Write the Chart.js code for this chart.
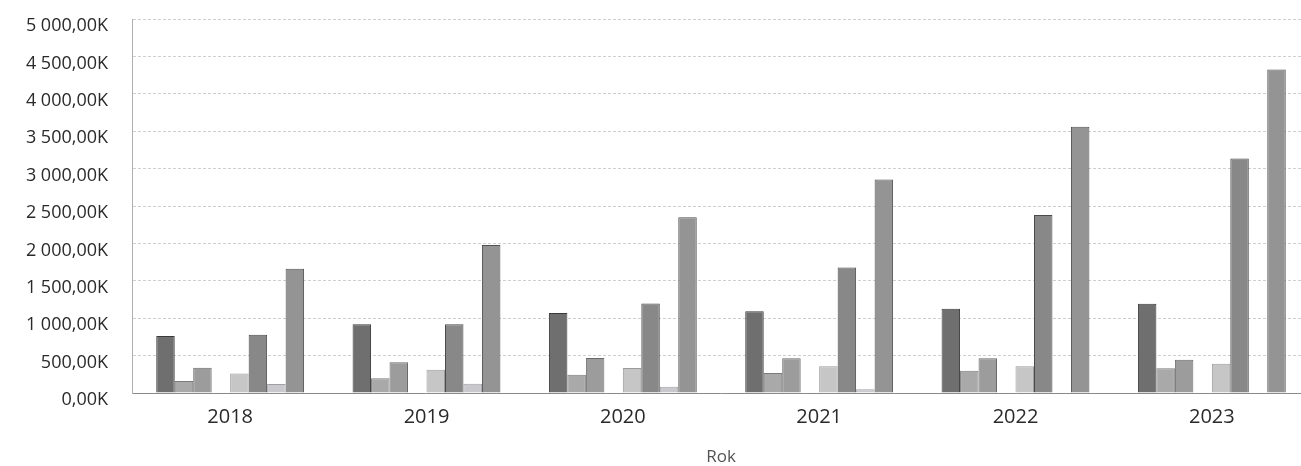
<!DOCTYPE html>
<html>
<head>
<meta charset="utf-8">
<script src="https://cdn.jsdelivr.net/npm/chart.js@4/dist/chart.umd.min.js"></script>
<style>
  html, body { margin: 0; padding: 0; background: #fff; overflow: hidden; }
  #wrap { width: 1312px; height: 466px; }
</style>
</head>
<body>
<div id="wrap"><canvas id="graph"></canvas></div>
<script>
// values, in thousands (K)
var years = ['2018', '2019', '2020', '2021', '2022', '2023']
var s1 = [761, 920, 1070, 1093, 1127, 1193]
var s2 = [159, 197, 245, 268, 296, 332]
var s3 = [336, 412, 468, 463, 463, 445]
var s4 = [0, 0, 0, 0, 0, 0]
var s5 = [262, 312, 333, 356, 356, 391]
var s6 = [779, 920, 1196, 1677, 2380, 3135]
var s7 = [121, 124, 83, 50, 0, 0]
var s8 = [1662, 1978, 2350, 2855, 3560, 4326]
var yTicks = [0, 500, 1000, 1500, 2000, 2500, 3000, 3500, 4000, 4500, 5000]

var fills = ['#6f6f6f', '#a9a9a9', '#9c9c9c', '#8a8a8a', '#c6c6c6', '#888888', '#c9c9cd', '#949494']
var edges = ['#3a3a3a', '#7a7a7a', '#6a6a6a', '#555555', '#9a9a9a', '#4a4a4a', '#a0a0a4', '#505050']

var fmt = function (v) {
    var p = v.toFixed(2).split('.')
    p[0] = p[0].replace(/\B(?=(\d{3})+(?!\d))/g, ' ')
    return p[0] + ',' + p[1] + 'K'
}

var series = [s1, s2, s3, s4, s5, s6, s7, s8]
var datasets = series.map(function (d, i) {
    return {
        label: 'S' + (i + 1),
        data: d,
        backgroundColor: fills[i],
        borderColor: edges[i],
        borderWidth: 1,
        barPercentage: 1,
        categoryPercentage: 0.753
    }
})

var ctx = document.getElementById('graph').getContext('2d')
var chart = new Chart(ctx, {
    type: 'bar',
    data: { labels: years, datasets: datasets },
    options: {
        responsive: true,
        maintainAspectRatio: false,
        animation: false,
        layout: { padding: { top: 19, right: 2, left: 0, bottom: 0 } },
        plugins: { legend: { display: false }, tooltip: { enabled: false } },
        scales: {
            x: {
                grid: { display: false, drawTicks: false },
                border: { display: true, color: '#8a8a8a', dash: [2, 2] },
                ticks: { color: '#2a2a2a', font: { family: 'Open Sans', size: 20 }, padding: 12 },
                title: {
                    display: true, text: 'Rok', color: '#555',
                    font: { family: 'Open Sans', size: 17, lineHeight: 1 },
                    padding: { top: 0, bottom: 0 }
                },
                afterFit: function (scale) { scale.height = 73 }
            },
            y: {
                min: 0,
                max: 5000,
                afterBuildTicks: function (scale) {
                    scale.ticks = yTicks.map(function (v) { return { value: v } })
                },
                grid: { color: '#cfcfcf', drawTicks: false, lineWidth: 1 },
                border: { display: true, color: '#b0b0b0', dash: [3, 2] },
                ticks: {
                    color: '#2a2a2a', font: { family: 'Open Sans', size: 18 },
                    padding: 24, labelOffset: 7,
                    callback: function (v) { return fmt(v) }
                },
                afterFit: function (scale) {
                    scale.width = 132
                    scale.paddingTop = 0
                    scale.paddingBottom = 0
                }
            }
        }
    }
})
</script>
</body>
</html>
